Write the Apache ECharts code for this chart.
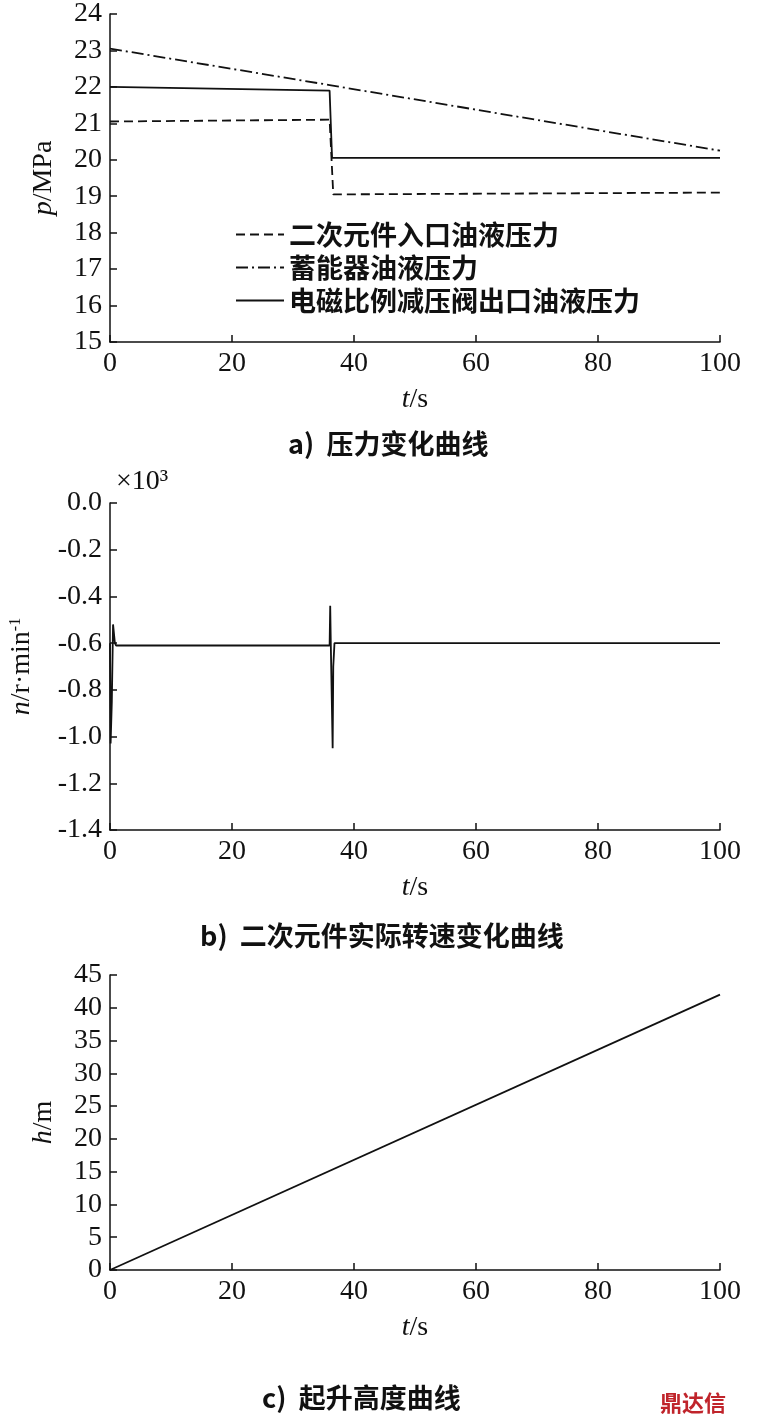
<!DOCTYPE html>
<html>
<head>
<meta charset="utf-8">
<script src="https://cdn.jsdelivr.net/npm/echarts@6/dist/echarts.min.js"></script>
<style>html,body{margin:0;background:#fff;}#c{width:758px;height:1424px;}</style>
</head>
<body>
<div id="c"></div>
<script>
// 压力数据 (t, MPa)
var inletP = [[0, 21.05], [36, 21.1], [36.6, 19.05], [100, 19.1]];
var accP = [[0, 23.05], [36, 22.05], [100, 20.25]];
var valveP = [[0, 22.0], [36, 21.9], [36.4, 20.05], [100, 20.05]];
// 转速数据 (t, ×10^3 r/min)
var speed = [[0, -0.6], [0.1, -1.03], [0.3, -0.85], [0.5, -0.52], [0.8, -0.6], [1, -0.61],
    [36, -0.61], [36.1, -0.44], [36.2, -0.61], [36.5, -1.05], [36.6, -0.7], [36.8, -0.6], [100, -0.6]];
// 起升高度 (t, m)
var height = [[0, 0], [100, 42]];

var font = 'Liberation Serif';
var axisLine = { onZero: false, lineStyle: { color: '#111', width: 1.5 } };
var tick = { inside: true, length: 7, lineStyle: { color: '#111', width: 1.5 } };
var lbl = { color: '#111', fontSize: 28, fontFamily: font };
function xAxis(idx) {
    return {
        type: 'value', gridIndex: idx, min: 0, max: 100, interval: 20,
        axisLine: axisLine, axisTick: tick, axisLabel: lbl, splitLine: { show: false },
        name: '{i|t}/s', nameLocation: 'middle', nameGap: 44,
        nameTextStyle: { color: '#111', fontSize: 28, fontFamily: font, rich: { i: { fontStyle: 'italic', fontSize: 28, fontFamily: font } } }
    };
}
function yAxis(idx, min, max, step, name, dec) {
    return {
        type: 'value', gridIndex: idx, min: min, max: max, interval: step,
        axisLine: axisLine, axisTick: tick, splitLine: { show: false },
        axisLabel: { color: '#111', fontSize: 28, fontFamily: font, formatter: function (v) { return dec ? v.toFixed(dec) : v; } },
        name: name, nameLocation: 'middle', nameGap: dec ? 74 : 52, nameRotate: 90,
        nameTextStyle: { color: '#111', fontSize: 28, fontFamily: font, rich: { i: { fontStyle: 'italic', fontSize: 28, fontFamily: font }, s: { fontSize: 16, fontFamily: font, verticalAlign: 'top' } } }
    };
}
var titleFont = 'bold 27px Noto Sans CJK SC';
var chart = echarts.init(document.getElementById('c'));
chart.setOption({
    animation: false,
    grid: [
        { left: 110, right: 38, top: 12, height: 330 },
        { left: 110, right: 38, top: 503, height: 327 },
        { left: 110, right: 38, top: 975, height: 295 }
    ],
    xAxis: [xAxis(0), xAxis(1), xAxis(2)],
    yAxis: [
        yAxis(0, 15, 24, 1, '{i|p}/MPa', 0),
        yAxis(1, -1.4, 0, 0.2, '{i|n}/r·min{s|-1}', 1),
        yAxis(2, 0, 45, 5, '{i|h}/m', 0)
    ],
    legend: {
        orient: 'vertical', left: 230, top: 216, itemGap: 6, itemWidth: 48, itemHeight: 14,
        itemStyle: { opacity: 0 },
        textStyle: { color: '#111', fontSize: 27, fontWeight: 'bold', fontFamily: 'Noto Sans CJK SC' },
        data: ['二次元件入口油液压力', '蓄能器油液压力', '电磁比例减压阀出口油液压力']
    },
    graphic: [
        { type: 'text', left: 116, top: 468, style: { text: '×10³', fill: '#111', font: '28px Liberation Serif' } },
        { type: 'text', left: 288, top: 430, style: { text: 'a)  压力变化曲线', fill: '#111', font: titleFont } },
        { type: 'text', left: 200, top: 922, style: { text: 'b)  二次元件实际转速变化曲线', fill: '#111', font: titleFont } },
        { type: 'text', left: 262, top: 1384, style: { text: 'c)  起升高度曲线', fill: '#111', font: titleFont } },
        { type: 'text', left: 660, top: 1392, style: { text: '鼎达信', fill: '#c0242b', font: 'bold 22px Noto Sans CJK SC' } }
    ],
    series: [
        { name: '二次元件入口油液压力', type: 'line', xAxisIndex: 0, yAxisIndex: 0, data: inletP, showSymbol: false, symbol: 'none',
          lineStyle: { color: '#111', width: 1.8, type: [9, 5] }, itemStyle: { color: '#111' } },
        { name: '蓄能器油液压力', type: 'line', xAxisIndex: 0, yAxisIndex: 0, data: accP, showSymbol: false, symbol: 'none',
          lineStyle: { color: '#111', width: 1.8, type: [12, 4, 2, 4] }, itemStyle: { color: '#111' } },
        { name: '电磁比例减压阀出口油液压力', type: 'line', xAxisIndex: 0, yAxisIndex: 0, data: valveP, showSymbol: false, symbol: 'none',
          lineStyle: { color: '#111', width: 1.8 }, itemStyle: { color: '#111' } },
        { type: 'line', xAxisIndex: 1, yAxisIndex: 1, data: speed, showSymbol: false, symbol: 'none',
          lineStyle: { color: '#111', width: 1.8 } },
        { type: 'line', xAxisIndex: 2, yAxisIndex: 2, data: height, showSymbol: false, symbol: 'none',
          lineStyle: { color: '#111', width: 1.8 } }
    ]
});
</script>
</body>
</html>
